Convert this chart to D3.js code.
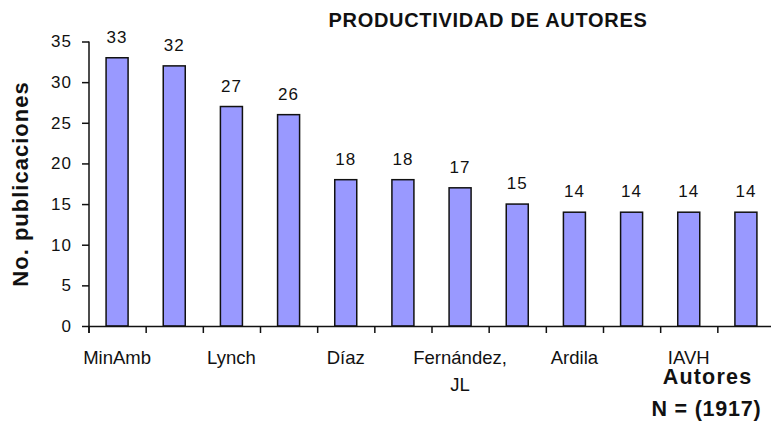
<!DOCTYPE html>
<html>
<head>
<meta charset="utf-8">
<script src="https://cdn.jsdelivr.net/npm/d3@7"></script>
<style>
  html, body { margin: 0; padding: 0; background: #fff; }
  svg { display: block; font-family: "Liberation Sans", Arial, sans-serif; }
</style>
</head>
<body>
<svg id="chart" width="771" height="424"></svg>
<script>
// Data
const categoryLabels = ["MinAmb", "", "Lynch", "", "Díaz", "", "Fernández, JL", "", "Ardila", "", "IAVH", ""];
const values = [33, 32, 27, 26, 18, 18, 17, 15, 14, 14, 14, 14];
const yTicks = [0, 5, 10, 15, 20, 25, 30, 35];
const chartTitle = "PRODUCTIVIDAD DE AUTORES";
const yTitle = "No. publicaciones";
const xTitle = "Autores";
const nNote = "N = (1917)";

const svg = d3.select("#chart");
const idx = d3.range(values.length);

const x = d3.scaleBand().domain(idx).range([88.5, 774.5]).paddingInner(0.615).paddingOuter(0.3075);
const xb = d3.scaleLinear().domain([0, values.length]).range([88.5, 774.5]);
const y = d3.scaleLinear().domain([0, 35]).range([326, 41.5]);

// Bars
svg.append("g").selectAll("rect").data(idx).join("rect")
  .attr("x", i => x(i))
  .attr("y", i => y(values[i]))
  .attr("width", x.bandwidth())
  .attr("height", i => y(0) - y(values[i]))
  .attr("fill", "#9999ff")
  .attr("stroke", "#111")
  .attr("stroke-width", 1.5);

// Value labels
svg.append("g").selectAll("text").data(idx).join("text")
  .attr("x", i => x(i) + x.bandwidth() / 2)
  .attr("y", i => y(values[i]) - 15)
  .attr("text-anchor", "middle")
  .attr("font-size", 17)
  .attr("letter-spacing", 1)
  .attr("fill", "#111")
  .text(i => values[i]);

// Y axis
const yAxis = svg.append("g").attr("transform", "translate(89,0)")
  .call(d3.axisLeft(y).tickValues(yTicks).tickSize(7).tickPadding(10).tickFormat(d3.format("d")));
yAxis.select(".domain").attr("d", `M0,${y(35)}V${y(0)}`).attr("stroke", "#111").attr("stroke-width", 1.5);
yAxis.selectAll(".tick line").attr("stroke", "#111").attr("stroke-width", 1.5);
yAxis.selectAll(".tick text").attr("font-size", 17).attr("letter-spacing", 1).attr("fill", "#111")
  .attr("font-family", "Liberation Sans, Arial, sans-serif");

// X axis: boundary tick marks
const xAxis = svg.append("g").attr("transform", `translate(0,${y(0)})`)
  .call(d3.axisBottom(xb).tickValues(d3.range(values.length + 1)).tickSize(7).tickFormat(""));
xAxis.select(".domain").attr("stroke", "#111").attr("stroke-width", 1.5);
xAxis.selectAll(".tick line").attr("stroke", "#111").attr("stroke-width", 1.5);

// X category labels (every other one visible, as in the reference)
const labG = svg.append("g").selectAll("text").data(idx.filter(i => categoryLabels[i] !== "")).join("text")
  .attr("x", i => x(i) + x.bandwidth() / 2)
  .attr("y", 364)
  .attr("text-anchor", "middle")
  .attr("font-size", 18.5)
  .attr("fill", "#111");
labG.each(function(i) {
  const parts = categoryLabels[i].includes(", ") ? categoryLabels[i].split(" ") : [categoryLabels[i]];
  const t = d3.select(this);
  parts.forEach((p, k) => {
    t.append("tspan").attr("x", x(i) + x.bandwidth() / 2).attr("dy", k === 0 ? 0 : 27).text(p);
  });
});

// Title
svg.append("text")
  .attr("x", 488).attr("y", 27)
  .attr("text-anchor", "middle")
  .attr("font-size", 20).attr("font-weight", "bold").attr("letter-spacing", 0.7)
  .attr("fill", "#111")
  .text(chartTitle);

// Y title
svg.append("text")
  .attr("transform", "translate(28,184) rotate(-90)")
  .attr("text-anchor", "middle")
  .attr("font-size", 22).attr("font-weight", "bold").attr("letter-spacing", 1)
  .attr("fill", "#111")
  .text(yTitle);

// X title and N note
svg.append("text")
  .attr("x", 707.5).attr("y", 384)
  .attr("text-anchor", "middle")
  .attr("font-size", 21.5).attr("font-weight", "bold").attr("letter-spacing", 1.2)
  .attr("fill", "#111")
  .text(xTitle);
svg.append("text")
  .attr("x", 706.5).attr("y", 416)
  .attr("text-anchor", "middle")
  .attr("font-size", 21.5).attr("font-weight", "bold").attr("letter-spacing", 0.8)
  .attr("fill", "#111")
  .text(nNote);
</script>
</body>
</html>
